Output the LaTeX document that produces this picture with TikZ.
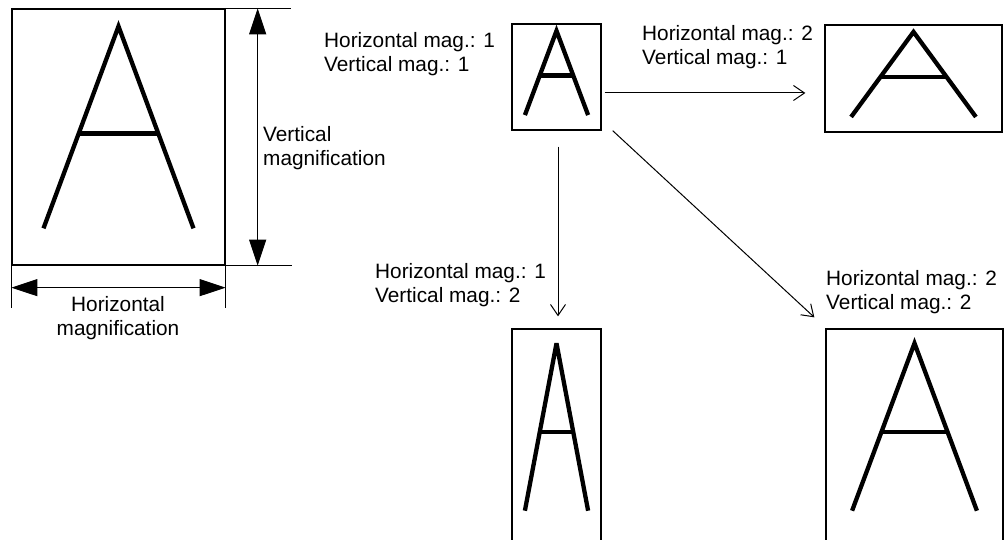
\documentclass[tikz,border=0pt]{standalone}
\usepackage{fontspec}
\setmainfont{Liberation Sans}
\usepackage{tikz}
\usetikzlibrary{arrows.meta,calc}

\tikzset{
  magbox/.style={draw, line width=1.3pt, inner sep=0pt},
  glyph/.style={line width=4.3pt, line cap=butt, miter limit=3.5},
  flow/.style={line width=1pt, -{Straight Barb[length=11pt,width=15pt]}},
  dimline/.style={line width=1pt, {Triangle[length=26pt,width=17pt]}-{Triangle[length=26pt,width=17pt]}},
  extline/.style={line width=1pt},
  maglabel/.style={font=\fontsize{20.8}{24}\selectfont, inner sep=0pt, align=left, anchor=north west}
}

% letter A drawn inside a box node, fractions taken from its top left corner
\newcommand{\glyphA}[1]{%
  \begin{scope}[shift={(#1.north west)},
      x={($(#1.north east)-(#1.north west)$)},
      y={($(#1.south west)-(#1.north west)$)}]
    \draw[glyph] (0.15,0.855) -- (0.5,0.07) -- (0.85,0.855);
    \draw[glyph] (0.314,0.487) -- (0.686,0.487);
  \end{scope}}

\begin{document}
\begin{tikzpicture}[x=1pt,y=1pt]
  \useasboundingbox (0,0) rectangle (1004,540);

  % boxes
  \node[magbox, minimum width=213pt, minimum height=256pt] (big)   at (118.5,403) {};
  \node[magbox, minimum width=89pt,  minimum height=106pt] (small) at (556.5,463) {};
  \node[magbox, minimum width=177pt, minimum height=107pt] (wide)  at (913.5,461.5) {};
  \node[magbox, minimum width=89pt,  minimum height=212pt] (tall)  at (556.5,105) {};
  \node[magbox, minimum width=177pt, minimum height=212pt] (large) at (914.5,105) {};

  \glyphA{big}
  \glyphA{small}
  \glyphA{wide}
  \glyphA{tall}
  \glyphA{large}

  % dimension lines of the big box
  \draw[extline] (big.north east) -- ([xshift=65pt]big.north east);
  \draw[extline] (big.south east) -- ([xshift=66pt]big.south east);
  \draw[dimline] ([xshift=32pt]big.north east) -- ([xshift=32pt]big.south east);
  \draw[extline] (big.south west) -- ([yshift=-42pt]big.south west);
  \draw[extline] (big.south east) -- ([yshift=-42pt]big.south east);
  \draw[dimline] ([yshift=-22pt]big.south west) -- ([yshift=-22pt]big.south east);

  \node[maglabel] (vmag) at (263,414) {Vertical\\magnification};
  \node[maglabel, align=center, anchor=north] (hmag) at (118,244) {Horizontal\\magnification};

  % arrows between the boxes
  \draw[flow] ([shift={(3pt,-16pt)}]small.east) coordinate (r0) -- ([xshift=-19pt]wide.west |- r0);
  \draw[flow] ([shift={(1.5pt,-16pt)}]small.south) -- ([shift={(1.5pt,12pt)}]tall.north);
  \draw[flow] ([xshift=11pt]small.south east) -- ([shift={(-11pt,11pt)}]large.north west);

  % labels
  \node[maglabel] (lsmall) at (324,508) {Horizontal mag.: 1\\Vertical mag.: 1};
  \node[maglabel] (lwide)  at (642,515) {Horizontal mag.: 2\\Vertical mag.: 1};
  \node[maglabel] (ltall)  at (375,277) {Horizontal mag.: 1\\Vertical mag.: 2};
  \node[maglabel] (llarge) at (826,270) {Horizontal mag.: 2\\Vertical mag.: 2};
\end{tikzpicture}
\end{document}
